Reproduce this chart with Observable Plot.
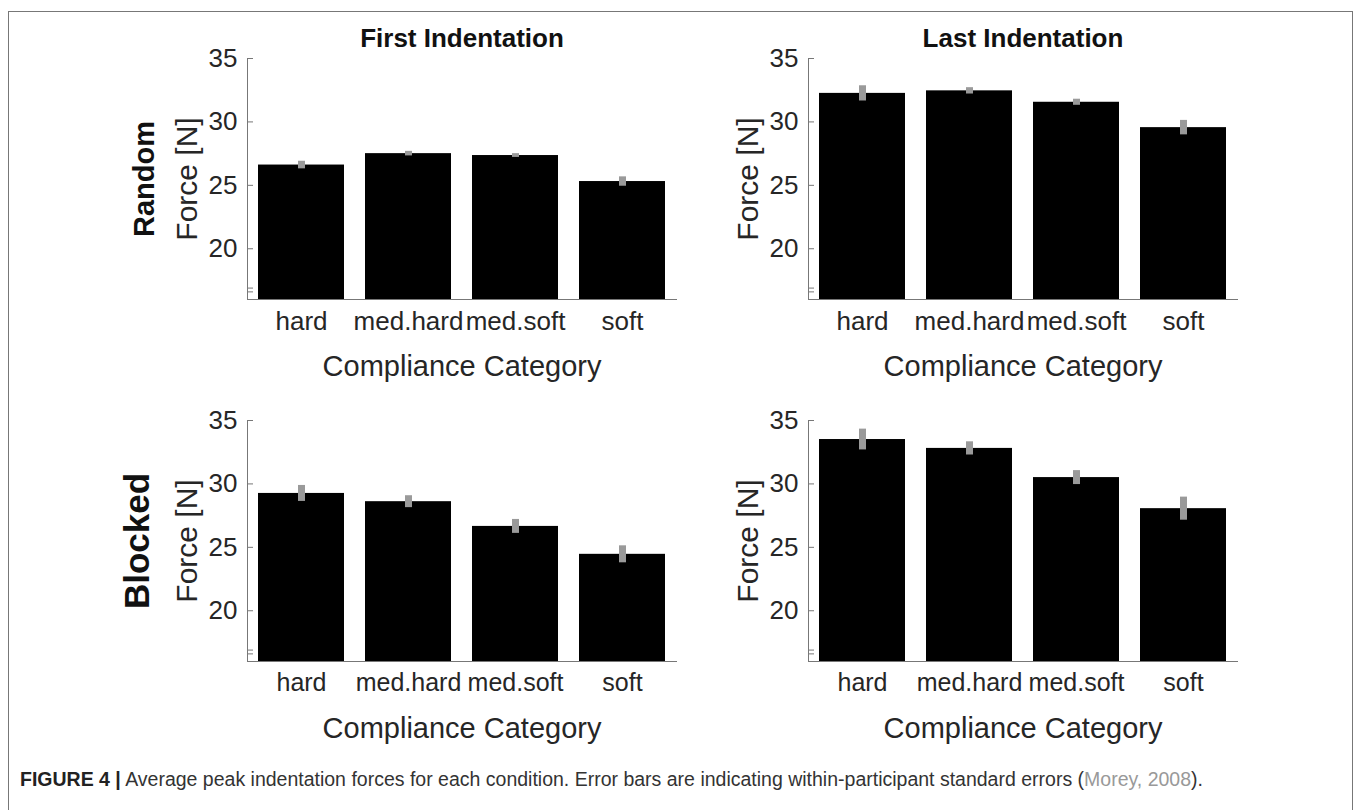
<!DOCTYPE html>
<html>
<head>
<meta charset="utf-8">
<script src="https://cdn.jsdelivr.net/npm/d3@7"></script>
<script src="https://cdn.jsdelivr.net/npm/@observablehq/plot@0.6"></script>
<style>
  html, body { margin: 0; padding: 0; background: #fff; width: 1354px; height: 810px; overflow: hidden; }
  body { position: relative; font-family: "Liberation Sans", Arial, sans-serif; }
  #frame { position: absolute; left: 8px; top: 11px; width: 1343px; height: 820px;
           border: 1px solid #777; border-bottom: none; }
  .panel { position: absolute; }
  #caption { position: absolute; left: 20px; top: 768px; font-size: 19.5px; color: #333; white-space: nowrap; }
  #caption b { color: #222; }
  #caption .ref { color: #999; }
</style>
</head>
<body>
<div id="frame"></div>
<div id="p1" class="panel"></div>
<div id="p2" class="panel"></div>
<div id="p3" class="panel"></div>
<div id="p4" class="panel"></div>
<div id="caption"><b>FIGURE 4 |</b> Average peak indentation forces for each condition. Error bars are indicating within-participant standard errors (<span class="ref">Morey, 2008</span>).</div>
<script>
// ---- data ----
const categories = ["hard", "med.hard", "med.soft", "soft"];
const yTicks = [20, 25, 30, 35];
const yMinorTicks = [16.6, 16.9];
const yDomain = [16, 35];

const randomFirst = [26.6, 27.5, 27.35, 25.3];
const randomFirstErr = [0.3, 0.18, 0.15, 0.37];
const randomLast = [32.25, 32.45, 31.55, 29.55];
const randomLastErr = [0.6, 0.25, 0.24, 0.57];
const blockedFirst = [29.25, 28.6, 26.65, 24.45];
const blockedFirstErr = [0.63, 0.47, 0.55, 0.67];
const blockedLast = [33.5, 32.8, 30.5, 28.05];
const blockedLastErr = [0.82, 0.52, 0.55, 0.91];

const colTitles = ["First Indentation", "Last Indentation"];
const rowTitles = ["Random", "Blocked"];
const xLabel = "Compliance Category";
const yLabel = "Force [N]";

// ---- drawing ----
const FONT = "'Liberation Sans', Arial, Helvetica, sans-serif";
const AXIS = "#777";
const TEXT = "#262626";

function panel(values, errs, opts) {
  const rows = categories.map((c, i) => ({cat: c, v: values[i], e: errs[i]}));
  const mL = 130, mR = 0, mT = opts.top ? 50 : 40, mB = 80;
  const plotW = 429, plotH = 241;
  const marks = [
    Plot.barY(rows, {x: "cat", y1: yDomain[0], y2: "v", fill: "black"}),
    Plot.ruleX(rows, {x: "cat", y1: d => d.v - d.e, y2: d => d.v + d.e, stroke: "#9a9a9a", strokeWidth: 7}),
    Plot.frame({anchor: "left", stroke: AXIS}),
    Plot.frame({anchor: "bottom", stroke: AXIS}),
    Plot.tickY([...yTicks, ...yMinorTicks], {y: d => d, stroke: AXIS, insetRight: plotW - 6}),
    Plot.axisY({ticks: yTicks, tickSize: 0, tickPadding: 10, fontSize: 26, label: null, color: TEXT}),
    Plot.axisX({tickSize: 0, tickPadding: 12, fontSize: opts.top ? 26 : 25, label: null, color: TEXT}),
    Plot.text([xLabel], {frameAnchor: "bottom", dy: 67, lineAnchor: "middle", fontSize: 29, fill: TEXT}),
    Plot.text([yLabel], {frameAnchor: "left", dx: -60, rotate: -90, lineAnchor: "middle", textAnchor: "middle", fontSize: 30, fill: TEXT})
  ];
  if (opts.title) marks.push(Plot.text([opts.title], {frameAnchor: "top", dy: -20, lineAnchor: "middle", fontSize: 26, fontWeight: "bold", fill: "#111"}));
  if (opts.row) marks.push(Plot.text([opts.row], {frameAnchor: "left", dx: opts.rowDx, rotate: -90, lineAnchor: "middle", textAnchor: "middle", fontSize: opts.rowSize, fontWeight: "bold", fill: "#111"}));
  return Plot.plot({
    width: mL + plotW + mR,
    height: mT + plotH + mB,
    marginLeft: mL, marginRight: mR, marginTop: mT, marginBottom: mB,
    style: {fontFamily: FONT, background: "transparent", overflow: "visible", color: TEXT},
    x: {domain: categories, paddingInner: 0.2, paddingOuter: 0.1, axis: null},
    y: {domain: yDomain, axis: null},
    marks
  });
}

function place(id, svg, left, top) {
  const el = document.getElementById(id);
  el.style.left = left + "px";
  el.style.top = top + "px";
  el.appendChild(svg);
}

place("p1", panel(randomFirst, randomFirstErr, {top: true, title: colTitles[0], row: rowTitles[0], rowDx: -103, rowSize: 29}), 117, 8);
place("p2", panel(randomLast, randomLastErr, {top: true, title: colTitles[1]}), 678, 8);
place("p3", panel(blockedFirst, blockedFirstErr, {top: false, row: rowTitles[1], rowDx: -110, rowSize: 35}), 117, 380);
place("p4", panel(blockedLast, blockedLastErr, {top: false}), 678, 380);
</script>
</body>
</html>
